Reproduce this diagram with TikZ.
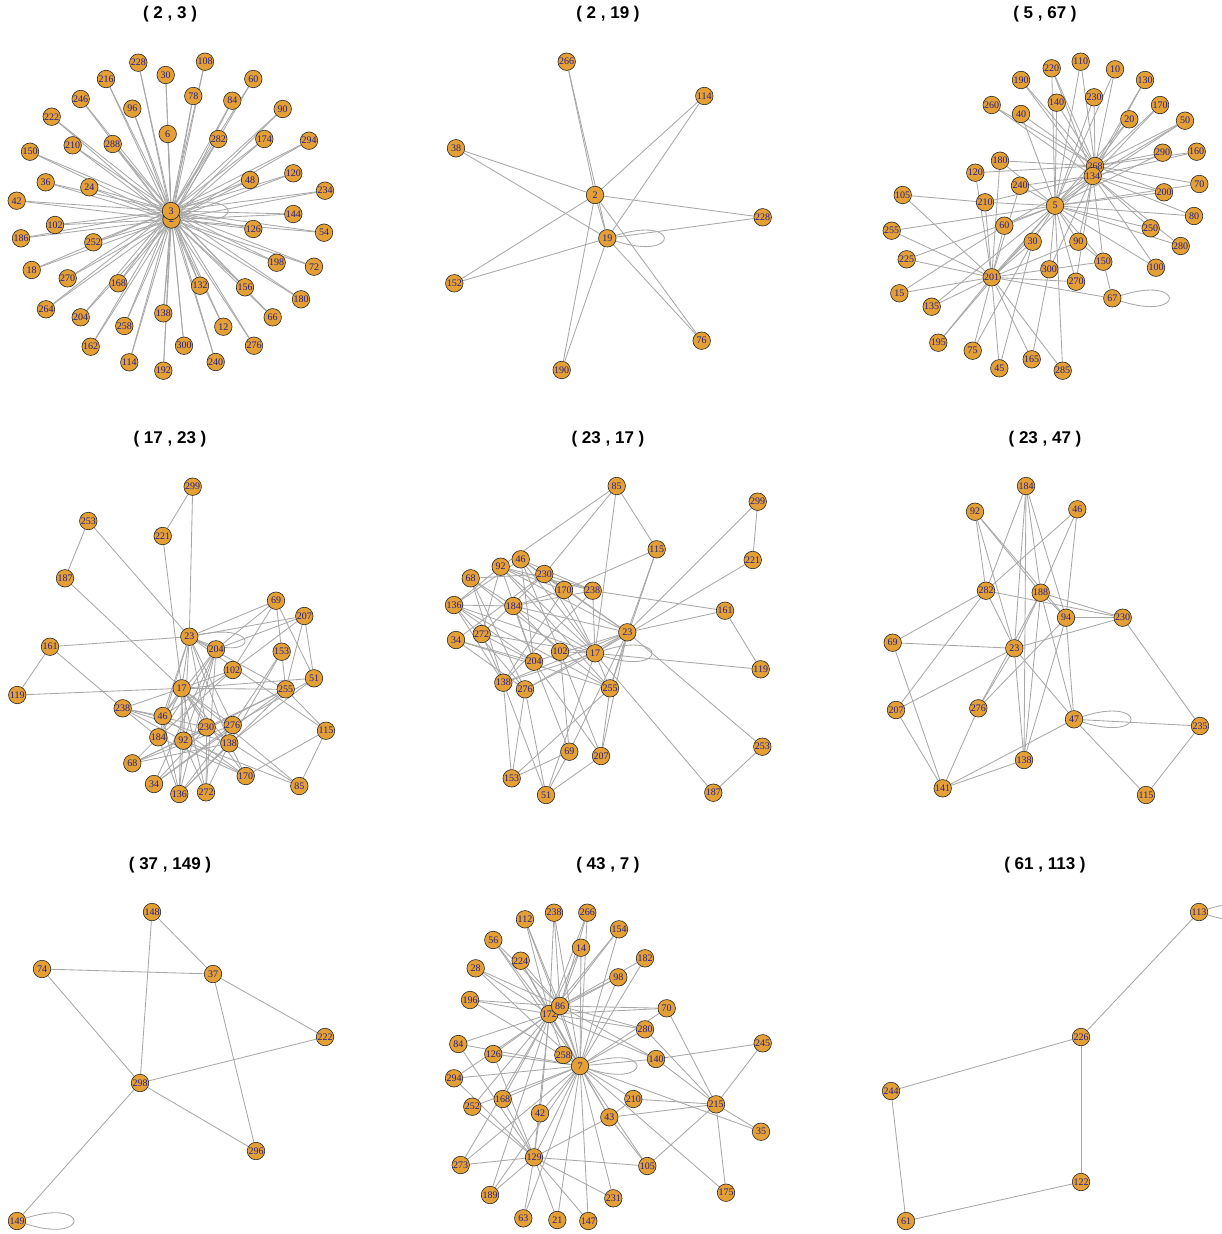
\documentclass[tikz,border=0pt]{standalone}
\usepackage{fontspec}
\setmainfont{Liberation Serif}
\newfontfamily\ttlfont{Liberation Sans}
\usetikzlibrary{backgrounds}
\definecolor{vfill}{RGB}{228,160,52}
\definecolor{vlab}{RGB}{35,30,140}
\definecolor{egray}{RGB}{168,168,168}
\tikzset{
 vx/.style={circle,draw=black!85,line width=0.6pt,fill=vfill,minimum size=17.5pt,inner sep=0pt,text=vlab,font=\fontsize{10}{10}\selectfont},
 ed/.style={draw=egray,line width=0.85pt},
 ttl/.style={font=\ttlfont\bfseries\fontsize{17}{17}\selectfont},
 lp/.style={ed,out=18,in=-18,distance=68pt},
}
\def\DEedges{299/221,299/23,253/187,253/23,221/17,187/17,161/23,161/119,161/238,119/17,17/51,
23/69,23/207,23/204,23/17,23/46,23/184,23/92,23/230,23/138,23/276,23/115,23/255,
69/153,69/51,69/102,69/204,207/102,207/255,207/51,207/204,153/255,153/138,153/276,
102/17,102/46,102/184,255/17,255/68,255/92,255/115,255/34,255/136,51/138,51/276,
115/170,115/85,17/238,17/46,17/184,17/92,17/230,17/276,17/138,17/170,17/136,17/272,17/85,
238/46,238/92,238/230,238/184,238/138,204/46,204/92,204/184,204/136,204/34,204/272,
230/85,230/68,230/34,230/272,276/68,276/136,276/34,138/68,138/136,138/170,138/272,
46/170,46/136,184/170,184/136,184/68,92/170,92/136,92/272,92/85}
\begin{document}
\begin{tikzpicture}[x=1pt,y=-1pt]
\clip (0,0) rectangle (1221,1234);
\path[use as bounding box] (0,0) rectangle (1221,1234);
% titles
\node[ttl] (t1) at (170,14) {( 2 , 3 )};
\node[ttl] (t2) at (608,14) {( 2 , 19 )};
\node[ttl] (t3) at (1045,14) {( 5 , 67 )};
\node[ttl] (t4) at (170,439) {( 17 , 23 )};
\node[ttl] (t5) at (608,439) {( 23 , 17 )};
\node[ttl] (t6) at (1045,439) {( 23 , 47 )};
\node[ttl] (t7) at (170,865) {( 37 , 149 )};
\node[ttl] (t8) at (608,865) {( 43 , 7 )};
\node[ttl] (t9) at (1045,865) {( 61 , 113 )};
% ---------- panel 1
\node[vx] (A2) at (171.5,219.5) {2};
\node[vx] (A3) at (171,211) {3};
\foreach \n/\x/\y in {228/138.3/62.7,108/205/61.7,30/165.7/75,216/106/79,60/253.3/79,78/193.3/96,246/80.7/99,84/232.3/100.7,96/132.3/108.7,90/282.7/109,222/51.7/116.7,6/167.7/134,282/218.3/139,174/264.3/139,288/112.7/144,210/72.7/145.3,294/309/140.7,150/30/151.7,48/250/180,120/293.3/173.3,36/45.7/182.3,24/89.3/187.3,234/325/190.7,42/16.7/200.7,144/293.3/214,102/55/225,126/253.3/229,54/324/232.7,186/21/238.3,252/93.3/242.3,198/276.7/262.7,72/314/266.7,18/31.7/270,270/67.7/278.3,168/118.3/283.3,132/200/285.7,156/245/287.3,180/301/299.3,264/46/309.3,66/272.7/317.3,204/80.7/317.3,138/163.3/313.3,258/124.3/326,12/223.3/326.7,162/90.7/346.7,300/184/345.7,276/254/345.7,114/129.3/362.3,240/215.7/362,192/163.3/370.7}
  \node[vx] (A\n) at (\x,\y) {\n};
\begin{pgfonlayer}{background}
\foreach \n in {228,108,30,216,60,78,246,84,96,90,222,6,282,174,288,210,294,150,48,120,36,24,234,42,144,102,126,54,186,252,198,72,18,270,168,132,156,180,264,66,204,138,258,12,162,300,276,114,240,192}
  {\draw[ed] (A\n) -- (A3); \draw[ed] (A\n) -- (A2);}
\draw[lp] (A3) to (A3);
\end{pgfonlayer}
% ---------- panel 2
\foreach \n/\x/\y in {266/566.7/61.7,114/704.3/96,38/456/148.3,2/595/195,228/762.7/217.3,19/607.3/238.3,152/454.3/283.3,76/701.7/340.7,190/561.7/370}
  \node[vx] (B\n) at (\x,\y) {\n};
\begin{pgfonlayer}{background}
\foreach \n in {266,114,38,228,152,76,190}
  {\draw[ed] (B\n) -- (B2); \draw[ed] (B\n) -- (B19);}
\draw[ed] (B2) -- (B19);
\draw[lp] (B19) to (B19);
\end{pgfonlayer}
% ---------- panel 3
\foreach \n/\x/\y in {110/1080.7/61.7,220/1051.7/68.3,10/1115/69.3,190/1021/80,130/1145/80,230/1094/97.3,140/1056.7/102.7,260/991.7/105,170/1160/105,40/1021/114,20/1129.3/119.3,50/1185/120.7,290/1162.7/152.7,160/1196.7/151.7,180/1000/160.7,120/975.3/172.7,240/1020/185.7,70/1199.3/184,200/1164/192.3,105/902.7/195,210/985/202.3,5/1055/205.7,80/1194/216,60/1004.3/225.7,255/891.7/230.7,250/1150.7/228.3,30/1032.7/241.7,90/1078.3/241.7,280/1180.7/246,225/906.7/259.3,150/1103.3/261.7,100/1156/267.7,300/1049.3/269.3,201/991.7/277.3,270/1076/281.7,15/899.3/293.3,67/1112.3/298.3,135/931.7/306.7,195/938.3/342.7,75/972.7/350.7,45/999.3/368.3,165/1031.7/359.3,285/1062.7/370.7,268/1095/166,134/1092.7/176}
  \node[vx] (C\n) at (\x,\y) {\n};
\begin{pgfonlayer}{background}
\foreach \a/\b in {110/268,110/5,220/268,220/134,220/5,10/268,10/5,190/268,190/134,130/268,130/134,230/268,230/5,140/268,140/5,260/268,260/134,170/268,170/134,40/5,40/268,20/268,20/5,50/268,50/134,50/5,290/268,290/5,160/268,160/134,180/268,180/201,180/5,120/268,120/201,240/5,240/134,240/201,70/268,70/5,200/134,200/5,200/268,80/134,80/5,250/134,250/5,280/134,280/5,100/134,100/5,210/5,210/105,210/201,210/134,105/201,255/5,255/201,60/5,60/201,60/134,225/5,225/201,15/60,15/201,135/201,135/5,30/5,30/201,90/5,90/201,90/134,90/150,300/5,300/201,300/134,300/150,270/5,270/201,270/134,150/134,150/67,150/5,67/201,195/201,195/5,75/201,75/30,45/201,45/30,165/201,165/300,285/201,285/5,201/5,201/134,5/134,5/268}
  \draw[ed] (C\a) -- (C\b);
\draw[lp] (C67) to (C67);
\end{pgfonlayer}
% ---------- panel 4
\foreach \n/\x/\y in {299/192.7/486.7,253/88.3/521,221/162.7/536,187/65/578.3,69/276/600.7,207/304.3/616,23/189.3/636.7,161/50/646.7,204/216/649.3,153/281.7/651.7,102/232.7/670,51/314/678.3,17/181.7/688.3,255/285.7/689.3,119/17.3/695,238/122.7/708.3,46/162.7/716,230/206.7/727.3,276/232.7/725,115/326/730.7,184/158.3/737.3,92/183.3/740.7,138/229.3/743.3,68/132.3/763.3,170/245.7/776,34/154/784,85/299.3/786,136/179.3/794,272/206/792.3}
  \node[vx] (D\n) at (\x,\y) {\n};
\begin{pgfonlayer}{background}
\foreach \a/\b in \DEedges \draw[ed] (D\a) -- (D\b);
\draw[ed,out=12,in=-22,distance=66pt] (D23) to (D23);
\end{pgfonlayer}
% ---------- panel 5
\foreach \n/\x/\y in {85/616.7/486,299/757.7/501.7,115/656.7/549.3,221/752.7/560,46/520.7/559.3,92/500.7/566.7,230/544.3/574,68/470.7/578.3,170/564/590,238/592.7/590.7,136/454/605,184/513.3/606,161/725/610.7,23/627.3/632.3,272/481.7/634,34/456/640,102/560/651.7,17/595/653.3,204/534/661.7,119/760.7/669.3,138/503.3/682.7,276/525/689.3,255/610/688.3,253/762.3/746.7,69/569.3/751.7,207/601/756,153/511.7/778.3,187/713.3/792.7,51/546/795}
  \node[vx] (E\n) at (\x,\y) {\n};
\begin{pgfonlayer}{background}
\foreach \a/\b in \DEedges \draw[ed] (E\a) -- (E\b);
\draw[lp] (E17) to (E17);
\end{pgfonlayer}
% ---------- panel 6
\foreach \n/\x/\y in {184/1026/486,92/975/511.7,46/1077.3/509.3,282/986/590.7,188/1040.7/592.7,94/1066/617.7,230/1122.7/617.7,69/892.7/642.7,23/1014.3/648.3,207/896/710,276/978.3/708.3,47/1074/719.3,235/1200/726,138/1024/760,141/942.7/788.3,115/1146/795}
  \node[vx] (F\n) at (\x,\y) {\n};
\begin{pgfonlayer}{background}
\foreach \a/\b in {184/282,184/23,184/188,184/94,184/138,92/282,92/23,92/188,92/94,46/282,46/188,46/94,282/69,282/207,282/23,282/230,188/23,188/230,188/94,188/47,188/138,188/276,94/230,94/47,94/138,94/276,230/23,230/235,69/23,69/141,23/207,23/276,23/138,23/47,207/141,276/141,47/141,47/235,47/115,138/141,235/115}
  \draw[ed] (F\a) -- (F\b);
\draw[lp] (F47) to (F47);
\end{pgfonlayer}
% ---------- panel 7
\foreach \n/\x/\y in {148/152/912,74/42/969,37/213/974,222/325/1037,298/140/1083,296/256/1151,149/17/1221}
  \node[vx] (G\n) at (\x,\y) {\n};
\begin{pgfonlayer}{background}
\foreach \a/\b in {148/37,148/298,74/37,74/298,37/222,37/296,298/222,298/296,298/149}
  \draw[ed] (G\a) -- (G\b);
\draw[lp] (G149) to (G149);
\end{pgfonlayer}
% ---------- panel 8
\foreach \n/\x/\y in {112/525/919.3,238/554/912.7,266/587.3/912.7,154/619/929.3,56/493.3/940,14/581/947.7,224/520.7/960.7,182/645/958.3,28/475.7/968.3,98/618.3/977.3,196/470/1000,70/666.7/1008.3,280/645/1029.3,84/458.3/1044,245/762.7/1043.3,126/493.3/1054,140/656/1059,294/454/1078.3,210/633.3/1099,168/502.7/1099,215/716/1104.3,252/472.3/1106.7,42/540/1113.3,43/609.3/1117.3,35/761/1131.7,129/534/1157.3,273/460.7/1165,105/647.3/1166,175/726/1192.7,189/490/1195,231/613.3/1198.3,63/523.3/1218.3,21/557.3/1220,147/588.3/1221,172/549.3/1014,86/560/1006,258/563.3/1055,7/580/1066}
  \node[vx] (H\n) at (\x,\y) {\n};
\begin{pgfonlayer}{background}
\foreach \n in {112,238,266,154,14,182,98,86,172,70,280,126,258,140,294,210,168,252,42,43,129,273,105,189,231,63,21,147,35,175,84,196,56,28,224}
  \draw[ed] (H\n) -- (H7);
\foreach \n in {112,238,266,154,56,14,224,28,98,196,84,70,280,140,126,294,252,168,258,42,129,43,189,273}
  \draw[ed] (H\n) -- (H172);
\foreach \n in {112,238,266,154,14,98,182,70,280,140,56,28,196,224}
  \draw[ed] (H\n) -- (H86);
\foreach \n in {84,294,126,168,42,43,273,105,189,63,21,147,231,252}
  \draw[ed] (H\n) -- (H129);
\foreach \n in {70,280,140,245,210,43,105,35,175}
  \draw[ed] (H\n) -- (H215);
\draw[ed] (H245) -- (H140);
\draw[ed] (H43) -- (H105);
\draw[ed] (H43) -- (H210);
\draw[lp] (H7) to (H7);
\end{pgfonlayer}
% ---------- panel 9
\foreach \n/\x/\y in {113/1199/912,226/1081/1037,244/891/1091,122/1081/1182,61/906/1221}
  \node[vx] (I\n) at (\x,\y) {\n};
\begin{pgfonlayer}{background}
\foreach \a/\b in {113/226,226/244,226/122,244/61,61/122}
  \draw[ed] (I\a) -- (I\b);
\draw[lp] (I113) to (I113);
\end{pgfonlayer}
\end{tikzpicture}
\end{document}
